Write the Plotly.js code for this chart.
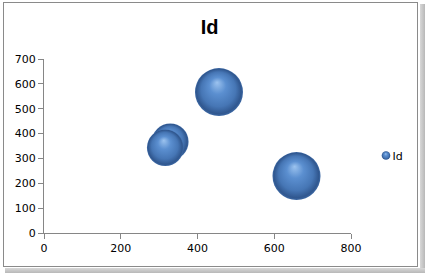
<!DOCTYPE html>
<html><head><meta charset="utf-8">
<script src="https://cdn.plot.ly/plotly-3.0.1.min.js"></script>
<style>
html,body{margin:0;padding:0;background:#fff;width:425px;height:273px;overflow:hidden;}
#frame{position:absolute;left:3px;top:2px;width:413px;height:263px;border:1px solid #8a8a8a;background:#fff;}
#shadowR{position:absolute;left:420px;top:4px;width:5px;height:269px;background:linear-gradient(to right,#d8d8d8,#b8b8b8);}
#shadowB{position:absolute;left:5px;top:268px;width:420px;height:5px;background:linear-gradient(to bottom,#d8d8d8,#b8b8b8);}
#chart{position:absolute;left:0;top:0;width:425px;height:273px;}
</style></head>
<body>
<div id="shadowR"></div><div id="shadowB"></div>
<div id="frame"></div>
<div id="chart"></div>
<script>
var seriesName = 'Id';
var xValues = [329, 316, 456, 658];
var yValues = [367, 343, 567, 229];
var bubbleSizes = [7, 7, 12, 12];
var xTickVals = [0, 200, 400, 600, 800];
var yTickVals = [0, 100, 200, 300, 400, 500, 600, 700];

var maxSize = Math.max.apply(null, bubbleSizes);
var trace = {
  type: 'scatter', mode: 'markers', name: seriesName,
  x: xValues, y: yValues,
  marker: {
    size: bubbleSizes, sizemode: 'area', sizeref: 2 * maxSize / (48 * 48),
    color: '#30578f', opacity: 1,
    gradient: {type: 'radial', color: '#9cc3ef'},
    line: {width: 0}
  },
  hoverinfo: 'x+y'
};
var axisCommon = {
  showgrid: false, zeroline: false, showline: true, linecolor: '#868686', linewidth: 1,
  ticks: 'outside', ticklen: 5, tickcolor: '#868686', tickwidth: 1,
  tickfont: {family: 'DejaVu Sans', size: 11, color: '#000'}, fixedrange: true, automargin: false
};
var layout = {
  width: 425, height: 273,
  margin: {l: 44, r: 74, t: 59, b: 40},
  paper_bgcolor: 'rgba(0,0,0,0)', plot_bgcolor: 'rgba(0,0,0,0)',
  title: {text: '<b>Id</b>', font: {family: 'Liberation Sans', size: 20, color: '#000'},
          xref: 'container', x: 0.493, yref: 'container', y: 0.9, xanchor: 'center', yanchor: 'middle'},
  xaxis: Object.assign({range: [0, 800], tickvals: xTickVals}, axisCommon),
  yaxis: Object.assign({range: [0, 700], tickvals: yTickVals}, axisCommon),
  showlegend: true,
  legend: {x: 0.7, xanchor: 'left', y: 0.4425, yanchor: 'middle', itemsizing: 'constant',
           font: {family: 'DejaVu Sans', size: 11, color: '#000'}, bgcolor: 'rgba(0,0,0,0)', borderwidth: 0}
};
Plotly.newPlot('chart', [trace], layout, {displayModeBar: false, staticPlot: true}).then(function(gd) {
  var grads = gd.querySelectorAll('radialGradient');
  grads.forEach(function(g) {
    g.setAttribute('cx', '0.5'); g.setAttribute('cy', '0.5'); g.setAttribute('r', '0.5');
    g.setAttribute('fx', '0.46'); g.setAttribute('fy', '0.3');
    while (g.firstChild) g.removeChild(g.firstChild);
    var stops = [[0, '#9cc3ef'], [0.35, '#5b8fd0'], [0.72, '#4676b5'], [0.93, '#30578f'], [1, '#3d69a5']];
    stops.forEach(function(s) {
      var st = document.createElementNS('http://www.w3.org/2000/svg', 'stop');
      st.setAttribute('offset', (s[0] * 100) + '%');
      st.setAttribute('stop-color', s[1]);
      g.appendChild(st);
    });
  });
  // place legend like the Excel legend: small symbol, text close to it
  var leg = gd.querySelector('g.legend');
  var sym = leg.querySelector('.legendpoints path');
  var txt = leg.querySelector('text.legendtext');
  if (sym) {
    var tr = sym.getAttribute('transform') || '';
    sym.setAttribute('transform', tr + ' scale(0.72)');
  }
  var rootBox = gd.getBoundingClientRect();
  var sb = sym.getBoundingClientRect();
  var dx = 386 - (sb.left + sb.width / 2 - rootBox.left);
  var dy = 155.5 - (sb.top + sb.height / 2 - rootBox.top);
  var m = /translate\(([-\d.]+)[ ,]+([-\d.]+)\)/.exec(leg.getAttribute('transform'));
  leg.setAttribute('transform', 'translate(' + (parseFloat(m[1]) + dx) + ',' + (parseFloat(m[2]) + dy) + ')');
  var tb = txt.getBoundingClientRect();
  var tdx = 392.5 - (tb.left - rootBox.left);
  txt.setAttribute('x', parseFloat(txt.getAttribute('x') || 0) + tdx);
  var legBg = leg.querySelector('rect.bg');
  if (legBg) legBg.setAttribute('width', '200');
});
</script>
</body></html>
